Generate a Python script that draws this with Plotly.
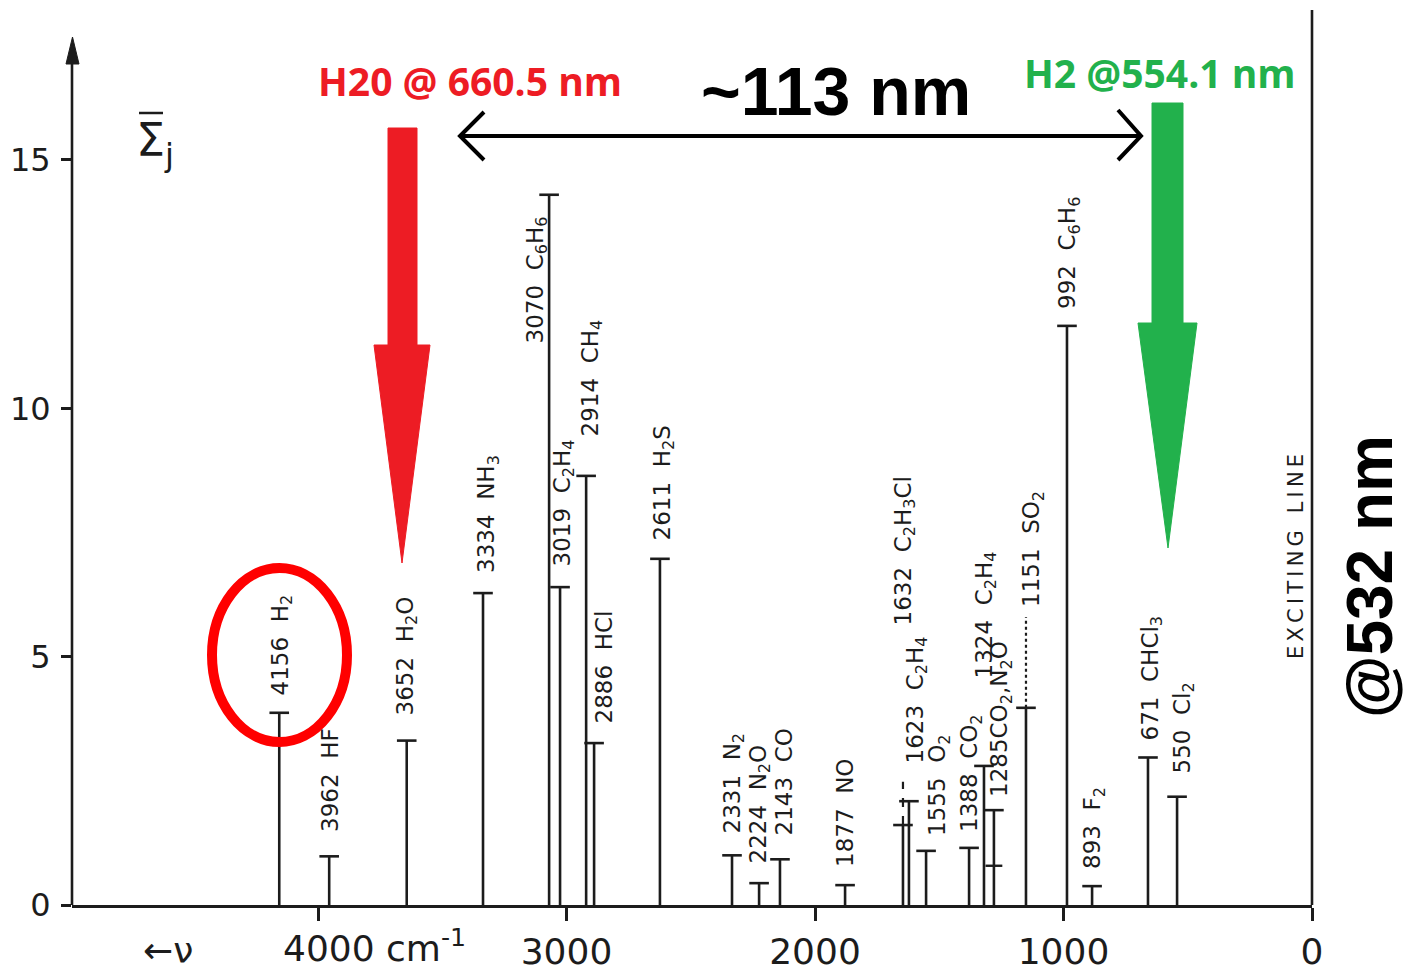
import plotly.graph_objects as go

# ------------------------------------------------------------------ data
wavenumber = [4156, 3955, 3643, 3336, 3070, 3026, 2921, 2889, 2624, 2334, 2225, 2141,
              1879, 1646, 1622, 1553, 1380, 1320, 1280, 1151, 986, 885, 660, 543]
cross_section = [3.87, 0.98, 3.31, 6.28, 14.30, 6.40, 8.64, 3.26, 6.97, 1.00, 0.44, 0.92,
                 0.40, 1.61, 2.09, 1.09, 1.15, 2.80, 1.91, 3.97, 11.66, 0.38, 2.97, 2.18]
labels = ["4156  H<sub>2</sub>", "3962  HF", "3652  H<sub>2</sub>O", "3334  NH<sub>3</sub>",
          "3070  C<sub>6</sub>H<sub>6</sub>", "3019  C<sub>2</sub>H<sub>4</sub>", "2914  CH<sub>4</sub>",
          "2886  HCl", "2611  H<sub>2</sub>S", "2331  N<sub>2</sub>", "2224  N<sub>2</sub>O", "2143  CO",
          "1877  NO", "1632  C<sub>2</sub>H<sub>3</sub>Cl", "1623  C<sub>2</sub>H<sub>4</sub>",
          "1555  O<sub>2</sub>", "1388  CO<sub>2</sub>", "1324  C<sub>2</sub>H<sub>4</sub>",
          "1285CO<sub>2</sub>,N<sub>2</sub>O", "1151  SO<sub>2</sub>", "992  C<sub>6</sub>H<sub>6</sub>",
          "893  F<sub>2</sub>", "671  CHCl<sub>3</sub>", "550  Cl<sub>2</sub>"]

# uncertain (dashed) extensions above some sticks
ext_x = [1646, 1151]
ext_lo = [1.61, 3.97]
ext_hi = [2.48, 5.80]
# secondary cap on the 1285 stick
extra_cap_x = [1280]
extra_cap_y = [0.79]

x_tickvals = [4000, 3000, 2000, 1000, 0]
x_ticktext = ["", "3000", "2000", "1000", "0"]
y_tickvals = [0, 5, 10, 15]
y_ticktext = ["0", "5", "10", "15"]

# ------------------------------------------------------------------ layout geometry
W, H = 1409, 980
ML, MR, MT, MB = 72, 97, 10, 75
PW, PH = W - ML - MR, H - MT - MB
XMAX = 4990.0
YMAX = 18.02


def PX(px):  # pixel -> paper x
    return (px - ML) / PW


def PY(py):  # pixel -> paper y
    return ((H - MB) - py) / PH


# label anchor pixels (center x, bottom y of the rotated text)
LABEL_PX = [(281, 697), (330, 833), (406, 717), (488, 574), (536, 345), (563, 568), (591, 438),
            (603, 725), (663, 542), (733, 835), (759, 865), (783, 837), (845, 868), (904, 627),
            (916, 765), (939, 837), (971, 833), (985, 680), (1001, 798), (1033, 608), (1069, 310),
            (1094, 870), (1151, 742), (1183, 775)]

INK = "#1c1c1c"
RED = "#ED1C24"
GREEN = "#22B14C"

fig = go.Figure()

# stems
sx, sy = [], []
for v, s in zip(wavenumber, cross_section):
    sx += [v, v, None]
    sy += [0, s, None]
fig.add_trace(go.Scatter(x=sx, y=sy, mode="lines", line=dict(color=INK, width=2.6),
                         hoverinfo="skip", showlegend=False))
# caps
fig.add_trace(go.Scatter(x=wavenumber, y=cross_section, mode="markers",
                         marker=dict(symbol="line-ew", size=14, line=dict(color=INK, width=2.6)),
                         showlegend=False))
fig.add_trace(go.Scatter(x=extra_cap_x, y=extra_cap_y, mode="markers",
                         marker=dict(symbol="line-ew", size=12, line=dict(color=INK, width=2.4)),
                         showlegend=False))
# dashed extensions
for v, lo, hi, dash in zip(ext_x, ext_lo, ext_hi, ["dash", "dot"]):
    fig.add_trace(go.Scatter(x=[v, v], y=[lo, hi], mode="lines",
                             line=dict(color=INK, width=2.2, dash=dash), showlegend=False))

P = dict(xref="paper", yref="paper")
shapes = []
# y axis line with arrowhead
shapes.append(dict(type="line", x0=0, x1=0, y0=0, y1=PY(60), line=dict(color=INK, width=2.6), **P))
shapes.append(dict(type="path",
                   path=f"M {PX(72.5)},{PY(37)} L {PX(66)},{PY(64)} L {PX(79)},{PY(64)} Z",
                   fillcolor=INK, line=dict(color=INK, width=1), **P))
# exciting line
shapes.append(dict(type="line", x0=1, x1=1, y0=0, y1=1, line=dict(color=INK, width=2.6), **P))
# red arrow
shapes.append(dict(type="path",
                   path=(f"M {PX(388)},{PY(128)} L {PX(417)},{PY(128)} L {PX(417)},{PY(345)} "
                         f"L {PX(430)},{PY(345)} L {PX(402)},{PY(563)} L {PX(374)},{PY(345)} "
                         f"L {PX(388)},{PY(345)} Z"),
                   fillcolor=RED, line=dict(color=RED, width=1), **P))
# green arrow
shapes.append(dict(type="path",
                   path=(f"M {PX(1152)},{PY(103)} L {PX(1183)},{PY(103)} L {PX(1183)},{PY(323)} "
                         f"L {PX(1197)},{PY(323)} L {PX(1168)},{PY(548)} L {PX(1138)},{PY(323)} "
                         f"L {PX(1152)},{PY(323)} Z"),
                   fillcolor=GREEN, line=dict(color=GREEN, width=1), **P))
# double-headed black arrow
shapes.append(dict(type="line", x0=PX(460), x1=PX(1141), y0=PY(136), y1=PY(136),
                   line=dict(color="black", width=4), **P))
shapes.append(dict(type="path",
                   path=f"M {PX(484)},{PY(112)} L {PX(460)},{PY(136)} L {PX(484)},{PY(160)}",
                   line=dict(color="black", width=4), **P))
shapes.append(dict(type="path",
                   path=f"M {PX(1118)},{PY(110)} L {PX(1141)},{PY(136)} L {PX(1118)},{PY(160)}",
                   line=dict(color="black", width=4), **P))
# red ellipse
shapes.append(dict(type="circle", x0=PX(212), x1=PX(347), y0=PY(742), y1=PY(568),
                   line=dict(color="#FF0000", width=10), **P))
# overbar of the sigma symbol
shapes.append(dict(type="line", x0=PX(139), x1=PX(163), y0=PY(113), y1=PY(113),
                   line=dict(color=INK, width=2.5), **P))

annotations = []
LBL_FONT = dict(family="DejaVu Sans", size=23, color=INK)
for (px, py), txt in zip(LABEL_PX, labels):
    annotations.append(dict(x=PX(px), y=PY(py), text=txt.replace("  ", "\u00a0\u00a0"),
                            textangle=-90, showarrow=False, xanchor="center", yanchor="bottom",
                            font=LBL_FONT, borderpad=0, **P))
# exciting line label
annotations.append(dict(x=PX(1296), y=PY(557),
                        text="\u2009".join("EXCITING") + "\u2009\u2009\u2009\u2009" + "\u2009".join("LINE"),
                        textangle=-90, showarrow=False, xanchor="center", yanchor="middle",
                        font=dict(family="DejaVu Sans", size=21, color=INK), **P))
# big black side label
annotations.append(dict(x=PX(1370), y=PY(577), text="<b>@532 nm</b>",
                        textangle=-90, showarrow=False, xanchor="center", yanchor="middle",
                        font=dict(family="Liberation Sans", size=64, color="black"), **P))
# top texts
annotations.append(dict(x=PX(836), y=PY(91), text="<b>~113 nm</b>",
                        showarrow=False, xanchor="center", yanchor="middle",
                        font=dict(family="Liberation Sans", size=68, color="black"), **P))
annotations.append(dict(x=PX(470), y=PY(80), text="<b>H20 @ 660.5 nm</b>",
                        showarrow=False, xanchor="center", yanchor="middle",
                        font=dict(family="Open Sans", size=39, color=RED), **P))
annotations.append(dict(x=PX(1160), y=PY(72), text="<b>H2 @554.1 nm</b>",
                        showarrow=False, xanchor="center", yanchor="middle",
                        font=dict(family="Open Sans", size=39, color=GREEN), **P))
# sigma symbol
annotations.append(dict(x=PX(134), y=PY(143), text="\u03a3<sub>j</sub>",
                        showarrow=False, xanchor="left", yanchor="middle",
                        font=dict(family="DejaVu Sans", size=46, color=INK), **P))
# x axis extras
annotations.append(dict(x=PX(281), y=PY(946), text="4000\u00a0cm<sup>-1</sup>",
                        showarrow=False, xanchor="left", yanchor="middle",
                        font=dict(family="DejaVu Sans", size=36, color=INK), **P))
annotations.append(dict(x=PX(168), y=PY(950), text="\u2190\u03bd",
                        showarrow=False, xanchor="center", yanchor="middle",
                        font=dict(family="DejaVu Sans", size=36, color=INK), **P))

fig.update_layout(
    template="none",
    width=W, height=H,
    margin=dict(l=ML, r=MR, t=MT, b=MB, pad=0, autoexpand=False),
    paper_bgcolor="white", plot_bgcolor="white",
    shapes=shapes, annotations=annotations,
    showlegend=False,
    xaxis=dict(range=[XMAX, 0], automargin=False, showgrid=False, zeroline=False, showline=True,
               linecolor=INK, linewidth=2.6, ticks="outside", ticklen=13, tickwidth=3,
               tickcolor=INK, tickvals=x_tickvals, ticktext=x_ticktext,
               tickfont=dict(family="DejaVu Sans", size=36, color=INK)),
    yaxis=dict(range=[0, YMAX], automargin=False, showgrid=False, zeroline=False, showline=False,
               ticks="outside", ticklen=10, tickwidth=2.6, tickcolor=INK,
               tickvals=y_tickvals, ticktext=y_ticktext, ticklabelstandoff=4,
               tickfont=dict(family="DejaVu Sans", size=32, color=INK)),
)

fig.write_html("out.html")
